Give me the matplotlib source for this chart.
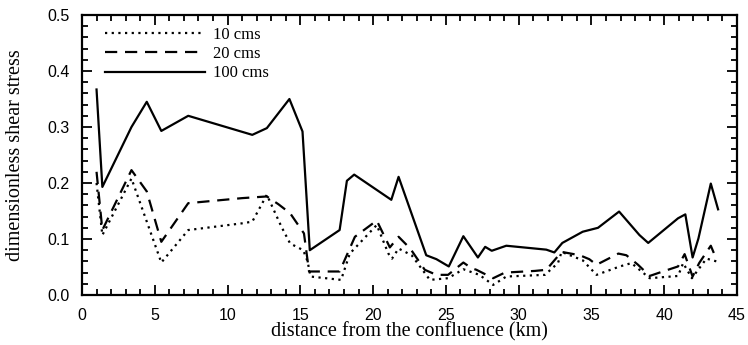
import matplotlib.pyplot as plt
from matplotlib.ticker import MultipleLocator

# distance from the confluence (km) and dimensionless shear stress per discharge
x_10 = [1.0, 1.4, 3.4, 5.45, 7.3, 11.0, 11.7, 12.7, 13.7, 14.3, 15.2, 15.5, 15.7,
        17.8, 18.4, 20.25, 21.05, 21.3, 21.75, 22.65, 23.9, 25.15, 26.2, 27.3,
        28.25, 29.15, 31.8, 32.7, 32.95, 34.4, 35.35, 36.95, 37.75, 39.0, 40.95,
        41.3, 41.9, 42.9, 43.6]
y_10 = [0.20, 0.107, 0.208, 0.058, 0.116, 0.128, 0.131, 0.179, 0.122, 0.092, 0.080,
        0.060, 0.033, 0.027, 0.074, 0.125, 0.074, 0.065, 0.083, 0.071, 0.027, 0.030,
        0.046, 0.036, 0.018, 0.033, 0.036, 0.057, 0.077, 0.062, 0.036, 0.051, 0.057,
        0.030, 0.034, 0.057, 0.030, 0.065, 0.060]

x_20 = [1.0, 1.4, 3.4, 4.45, 5.45, 7.3, 11.0, 12.7, 13.5, 14.3, 15.25, 15.6, 17.7,
        18.75, 20.25, 21.15, 21.75, 22.55, 23.55, 24.35, 25.15, 26.2, 26.75, 27.1,
        28.25, 29.05, 31.1, 31.9, 32.95, 34.2, 34.85, 35.35, 36.85, 37.4, 38.2,
        39.0, 39.9, 40.95, 41.4, 41.95, 42.4, 43.2, 43.6]
y_20 = [0.22, 0.116, 0.223, 0.185, 0.095, 0.164, 0.173, 0.176, 0.162, 0.146, 0.110,
        0.042, 0.042, 0.104, 0.133, 0.085, 0.104, 0.083, 0.045, 0.036, 0.036, 0.058,
        0.048, 0.045, 0.030, 0.040, 0.043, 0.045, 0.077, 0.071, 0.064, 0.054, 0.074,
        0.071, 0.054, 0.034, 0.042, 0.051, 0.073, 0.033, 0.057, 0.088, 0.063]

x_100 = [1.0, 1.4, 3.4, 4.45, 5.45, 7.3, 11.7, 12.7, 14.25, 15.15, 15.65, 17.7,
         18.2, 18.7, 21.25, 21.75, 23.65, 24.35, 25.2, 26.2, 27.2, 27.7, 28.15,
         29.15, 31.9, 32.45, 33.0, 34.4, 35.45, 36.9, 38.3, 38.9, 40.95, 41.45,
         41.95, 42.35, 43.2, 43.7]
y_100 = [0.367, 0.193, 0.300, 0.345, 0.293, 0.320, 0.286, 0.298, 0.350, 0.292,
         0.080, 0.116, 0.204, 0.215, 0.170, 0.211, 0.071, 0.064, 0.051, 0.105,
         0.067, 0.086, 0.079, 0.088, 0.081, 0.076, 0.093, 0.113, 0.120, 0.149,
         0.107, 0.093, 0.137, 0.144, 0.067, 0.101, 0.199, 0.153]

serif = "Liberation Serif"
sans = "Liberation Sans"

fig = plt.figure(figsize=(7.48, 3.45), dpi=100)
ax = fig.add_axes([0.1096, 0.1449, 0.8757, 0.8116])

ax.plot(x_10, y_10, color="black", lw=1.6, linestyle=(0, (1, 2)), label="10 cms")
ax.plot(x_20, y_20, color="black", lw=1.6, linestyle=(0, (5.5, 3.5)), label="20 cms")
ax.plot(x_100, y_100, color="black", lw=1.6, linestyle="-", label="100 cms")

ax.set_xlim(0, 45)
ax.set_ylim(0, 0.5)
ax.xaxis.set_major_locator(MultipleLocator(5))
ax.xaxis.set_minor_locator(MultipleLocator(1))
ax.yaxis.set_major_locator(MultipleLocator(0.1))
ax.yaxis.set_minor_locator(MultipleLocator(0.02))
ax.yaxis.set_major_formatter(plt.FuncFormatter(lambda v, p: f"{v:.1f}"))
ax.tick_params(which="both", direction="in", top=True, right=True, width=1.3)
ax.tick_params(which="major", length=7, labelsize=11.5)
ax.tick_params(which="minor", length=4)
ax.tick_params(axis="x", which="major", pad=9)
ax.tick_params(axis="y", which="major", pad=9)
for lab in ax.get_xticklabels() + ax.get_yticklabels():
    lab.set_fontfamily(sans)
for sp in ax.spines.values():
    sp.set_linewidth(1.6)

ax.set_xlabel("distance from the confluence (km)", fontfamily=serif, fontsize=14.5)
ax.set_ylabel("dimensionless shear stress", fontfamily=serif, fontsize=14.5)
ax.xaxis.set_label_coords(0.5, -0.096)
ax.yaxis.set_label_coords(-0.087, 0.5)

ax.legend(loc="upper left", bbox_to_anchor=(0.025, 0.982), borderaxespad=0,
          frameon=False, prop={"family": serif, "size": 12},
          handlelength=6.0, handletextpad=0.5, labelspacing=0.2)

fig.savefig("out.png", dpi=100)
